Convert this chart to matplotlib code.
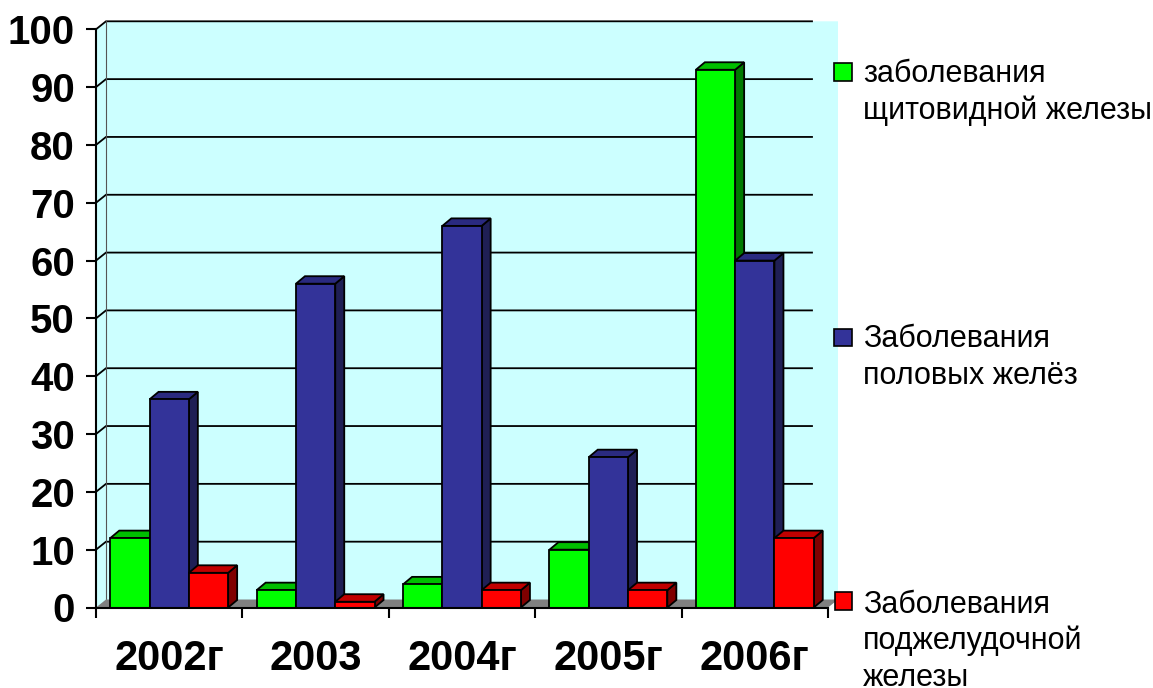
import matplotlib
matplotlib.use('Agg')
import matplotlib.pyplot as plt
from matplotlib.patches import Polygon, Rectangle
from matplotlib.ticker import FixedLocator, NullFormatter

# ---------------- data ----------------
categories = ['2002г', '2003', '2004г', '2005г', '2006г']
thyroid = [12, 3, 4, 10, 93]
gonads = [36, 56, 66, 26, 60]
pancreas = [6, 1, 3, 3, 12]
series_labels = ['заболевания\nщитовидной железы',
                 'Заболевания\nполовых желёз',
                 'Заболевания\nподжелудочной\nжелезы']
yticks = list(range(0, 101, 10))

series = [thyroid, gonads, pancreas]
front_cols = ['#00FF00', '#333399', '#FF0000']
top_cols = ['#00BE00', '#2A2A80', '#C00000']
side_cols = ['#007A00', '#1F1F55', '#800000']

plt.rcParams['font.family'] = ['Liberation Sans', 'DejaVu Sans']

W, H = 1153, 688
fig = plt.figure(figsize=(W / 100, H / 100), dpi=100)

x0px, x1px, y0px, y1px = 96, 828, 607.5, 29.3
ax = fig.add_axes([x0px / W, 1 - y0px / H, (x1px - x0px) / W, (y0px - y1px) / H])
n = len(categories)
ax.set_xlim(-0.5, n - 0.5)
ax.set_ylim(0, 100)
ax.patch.set_visible(False)
for s in ['top', 'right']:
    ax.spines[s].set_visible(False)
ax.spines['left'].set_linewidth(1.5)
ax.spines['bottom'].set_linewidth(1.5)
ax.spines['left'].set_zorder(10)
ax.spines['bottom'].set_zorder(10)

pxx = n / (x1px - x0px)      # data units per pixel (x)
pxy = 100 / (y0px - y1px)    # data units per pixel (y)
wdx, wdy = 10 * pxx, 8 * pxy   # wall depth
bdx, bdy = 9 * pxx, 7.5 * pxy  # bar depth
xl0, xr0 = -0.5, n - 0.5

# background walls
bg = Polygon([(xl0, 0), (xl0, 100), (xl0 + wdx, 100 + wdy), (xr0 + wdx, 100 + wdy),
              (xr0 + wdx, wdy), (xr0, 0)], closed=True, facecolor='#CCFFFF',
             edgecolor='none', zorder=0, clip_on=False)
ax.add_patch(bg)

# gridlines
xg = xl0 + (812 - x0px) * pxx
for t in yticks[1:]:
    ax.plot([xl0, xl0 + wdx, xg], [t, t + wdy, t + wdy], color='black', lw=1.3,
            zorder=1, clip_on=False, solid_joinstyle='miter')
# back wall left edge
ax.plot([xl0 + wdx, xl0 + wdx], [wdy, 100 + wdy], color='#555555', lw=0.8, zorder=1, clip_on=False)

# floor
floor = Polygon([(xl0, 0), (xr0, 0), (xr0 + wdx, wdy), (xl0 + wdx, wdy)], closed=True,
                facecolor='#808080', edgecolor='none', zorder=2, clip_on=False)
ax.add_patch(floor)

# bars
bw = 39.3 * pxx
k = 0
for i in range(n):
    for j, vals in enumerate(series):
        v = vals[i]
        xl = i - 1.5 * bw + j * bw
        xr = xl + bw
        z = 3 + k * 0.01
        side = Polygon([(xr, 0), (xr + bdx, bdy), (xr + bdx, v + bdy), (xr, v)], closed=True,
                       facecolor=side_cols[j], edgecolor='black', lw=1.3, zorder=z,
                       clip_on=False, joinstyle='miter')
        top = Polygon([(xl, v), (xr, v), (xr + bdx, v + bdy), (xl + bdx, v + bdy)], closed=True,
                      facecolor=top_cols[j], edgecolor='black', lw=1.3, zorder=z,
                      clip_on=False, joinstyle='miter')
        ax.add_patch(side)
        ax.add_patch(top)
        bars = ax.bar([xl], [v], width=bw, align='edge', color=front_cols[j],
                      edgecolor='black', linewidth=1.3, zorder=z + 0.005)
        for b in bars:
            b.set_clip_on(False)
            b.set_joinstyle('miter')
        k += 1

# axes ticks
ax.set_yticks(yticks)
ax.set_yticklabels([str(t) for t in yticks], fontsize=29, fontweight='bold')
ax.tick_params(axis='y', length=7.2, width=1.5, pad=8, direction='out')
ax.xaxis.set_major_locator(FixedLocator([i - 0.5 for i in range(n + 1)]))
ax.xaxis.set_major_formatter(NullFormatter())
ax.xaxis.set_minor_locator(FixedLocator(list(range(n))))
ax.set_xticklabels(categories, minor=True, fontsize=30, fontweight='bold')
ax.tick_params(axis='x', which='major', length=7.2, width=1.5, direction='out')
ax.tick_params(axis='x', which='minor', length=0, pad=23)

# legend (manual)
leg = [((834, 63), 82), ((834, 329), 347), ((835, 592), 613)]
line_step = 36.5
for j, ((mx, my), base) in enumerate(leg):
    fig.add_artist(Rectangle((mx / W, 1 - (my + 17.5) / H), 17.5 / W, 17.5 / H,
                             transform=fig.transFigure, facecolor=front_cols[j],
                             edgecolor='black', lw=1.2))
    for li, line in enumerate(series_labels[j].split('\n')):
        fig.text(863 / W, 1 - (base + li * line_step) / H, line, fontsize=22,
                 va='baseline', ha='left', color='black')

fig.savefig('out.png', dpi=100)
